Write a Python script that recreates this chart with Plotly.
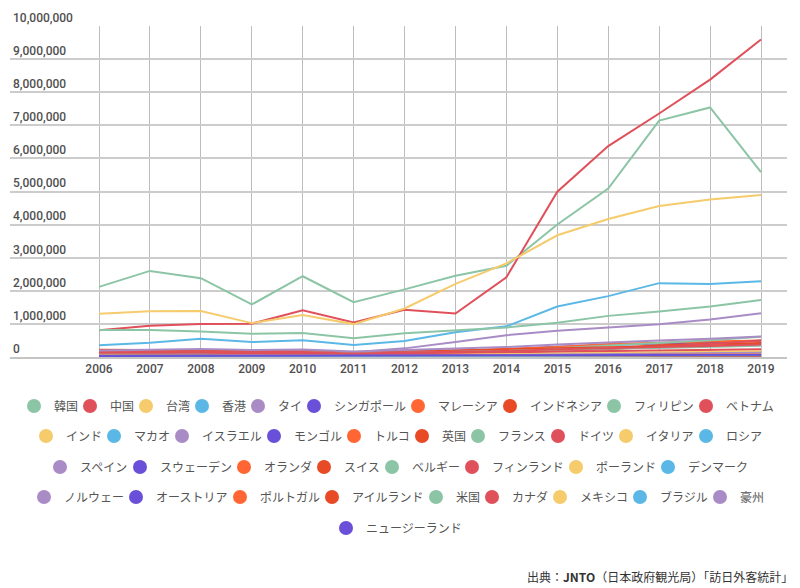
import plotly.graph_objects as go

years = [2006, 2007, 2008, 2009, 2010, 2011, 2012, 2013, 2014, 2015, 2016, 2017, 2018, 2019]
y_ticks = [0, 1000000, 2000000, 3000000, 4000000, 5000000, 6000000, 7000000, 8000000, 9000000, 10000000]

korea = [2117325, 2600694, 2382397, 1586772, 2439816, 1658073, 2042775, 2456165, 2755313, 4002095, 5090302, 7140438, 7538952, 5584597]
china = [811675, 942439, 1000416, 1006085, 1412875, 1043246, 1425100, 1314437, 2409158, 4993689, 6373564, 7355818, 8380034, 9594394]
taiwan = [1309121, 1385255, 1390228, 1024292, 1268278, 993974, 1465753, 2210821, 2829821, 3677075, 4167512, 4564053, 4757258, 4890602]
hongkong = [352265, 432042, 550190, 449568, 508691, 364865, 481665, 745881, 925975, 1524292, 1839193, 2231568, 2207804, 2290792]
thailand = [125704, 167481, 191881, 177541, 214881, 144969, 260640, 453642, 657570, 796731, 901525, 987211, 1132160, 1318977]
singapore = [115870, 151860, 167894, 145224, 180960, 111354, 142201, 189280, 227962, 308783, 361807, 404132, 437280, 492252]
malaysia = [85627, 100897, 105663, 89509, 114519, 81516, 130183, 176521, 249521, 305447, 394268, 439548, 468360, 501592]
indonesia = [62059, 63617, 66593, 63655, 80632, 61911, 101460, 136797, 158739, 205083, 271014, 352330, 396852, 412779]
philippines = [95530, 88123, 82177, 71485, 77377, 63099, 85037, 108351, 184204, 268361, 347861, 424121, 503976, 613114]
vietnam = [26000, 31000, 35000, 37000, 42000, 41000, 55000, 84000, 124000, 185000, 234000, 309000, 389000, 495000]
india = [62000, 65000, 67000, 59000, 67000, 59000, 69000, 75000, 88000, 103000, 123000, 134000, 154000, 176000]
macau = [15000, 18000, 20000, 18000, 20000, 15000, 20000, 25000, 40000, 55000, 70000, 95000, 100000, 110000]
israel = [8000, 9000, 9000, 8000, 9000, 6000, 8000, 10000, 14000, 19000, 25000, 32000, 37000, 42000]
mongolia = [10000, 11000, 12000, 11000, 11000, 9000, 12000, 14000, 17000, 18000, 18000, 21000, 22000, 24000]
turkey = [12000, 13000, 14000, 13000, 14000, 10000, 12000, 13000, 15000, 19000, 15000, 17000, 20000, 22000]
uk = [215704, 221945, 206564, 181460, 184045, 140099, 173994, 191798, 220060, 258488, 292458, 310499, 333979, 424279]
france = [134839, 137000, 147580, 141000, 151011, 95438, 130412, 154892, 178570, 214228, 253449, 268977, 304896, 336333]
germany = [125000, 125000, 126000, 117000, 124360, 80772, 108898, 121776, 140254, 162580, 183288, 195606, 215336, 236544]
italy = [55000, 59000, 59000, 54000, 62000, 34000, 52000, 67000, 80000, 103000, 119000, 125000, 149000, 162769]
russia = [52000, 61000, 66000, 46000, 51000, 34000, 50000, 60000, 64000, 54000, 55000, 77000, 95000, 120043]
spain = [30000, 33000, 35000, 32000, 34000, 23000, 35000, 44000, 61000, 77000, 91000, 100000, 119000, 130243]
sweden = [33000, 34000, 35000, 30000, 33000, 22000, 30000, 32000, 38000, 43000, 48000, 50000, 53000, 55000]
netherlands = [45000, 45000, 45000, 40000, 40000, 25000, 34000, 38000, 45000, 55000, 60000, 67000, 75000, 80000]
switzerland = [25000, 27000, 28000, 25000, 27000, 20000, 26000, 28000, 32000, 39000, 42000, 45000, 50000, 55000]
belgium = [15000, 16000, 17000, 15000, 17000, 10000, 14000, 16000, 20000, 25000, 28000, 31000, 34000, 36000]
finland = [14000, 15000, 16000, 14000, 15000, 10000, 13000, 14000, 17000, 20000, 22000, 25000, 28000, 31000]
poland = [8000, 9000, 10000, 9000, 10000, 7000, 10000, 12000, 15000, 20000, 25000, 30000, 35000, 40000]
denmark = [12000, 13000, 14000, 13000, 14000, 10000, 12000, 14000, 17000, 20000, 23000, 25000, 28000, 30000]
norway = [9000, 10000, 10000, 9000, 10000, 7000, 9000, 11000, 13000, 16000, 18000, 20000, 22000, 25000]
austria = [11000, 11000, 12000, 11000, 12000, 8000, 10000, 13000, 15000, 19000, 22000, 25000, 28000, 30000]
portugal = [5000, 5000, 6000, 5000, 6000, 4000, 5000, 7000, 10000, 13000, 15000, 17000, 19000, 21000]
ireland = [7000, 7000, 8000, 7000, 7000, 5000, 7000, 8000, 10000, 13000, 15000, 17000, 19000, 21000]
usa = [816727, 815882, 768345, 699919, 727234, 565887, 716709, 799280, 891668, 1033258, 1242719, 1374964, 1526407, 1723861]
canada = [162000, 166000, 168000, 152000, 153303, 101299, 135355, 152766, 182865, 231390, 273213, 305631, 330600, 375262]
mexico = [15000, 16000, 17000, 14000, 17000, 12000, 18000, 25000, 35000, 45000, 55000, 60000, 69000, 75000]
brazil = [25000, 27000, 30000, 25000, 28000, 20000, 25000, 28000, 32000, 34000, 39000, 44000, 48000, 50000]
australia = [194771, 222546, 242031, 211659, 225751, 162578, 206404, 244569, 302656, 376075, 445332, 495054, 552440, 621771]
newzealand = [32000, 35000, 36000, 32000, 34000, 25000, 34000, 38000, 45000, 50000, 57000, 62000, 65000, 70000]

countries = ["韓国", "中国", "台湾", "香港", "タイ", "シンガポール", "マレーシア", "インドネシア", "フィリピン", "ベトナム",
             "インド", "マカオ", "イスラエル", "モンゴル", "トルコ", "英国", "フランス", "ドイツ", "イタリア", "ロシア",
             "スペイン", "スウェーデン", "オランダ", "スイス", "ベルギー", "フィンランド", "ポーランド", "デンマーク",
             "ノルウェー", "オーストリア", "ポルトガル", "アイルランド", "米国", "カナダ", "メキシコ", "ブラジル", "豪州",
             "ニュージーランド"]
series = [korea, china, taiwan, hongkong, thailand, singapore, malaysia, indonesia, philippines, vietnam,
          india, macau, israel, mongolia, turkey, uk, france, germany, italy, russia,
          spain, sweden, netherlands, switzerland, belgium, finland, poland, denmark,
          norway, austria, portugal, ireland, usa, canada, mexico, brazil, australia, newzealand]

palette = ["#8cc5a6", "#e0505a", "#f5cb6b", "#5bb8e6", "#a98cc6", "#6a4fd8", "#ff6633", "#e84a25"]

# ---- layout constants (pixels) ----
W, H = 800, 588
PLOT_TOP, PLOT_BOTTOM, PLOT_LEFT, PLOT_RIGHT = 26, 357, 10, 787
plot_h = PLOT_BOTTOM - PLOT_TOP
plot_w = PLOT_RIGHT - PLOT_LEFT
FIRST_X, LAST_X = 99, 761

# legend rows: entries per row, row center y, horizontal center
row_sizes = [10, 10, 8, 9, 1]
row_centers_px = [406, 436, 467, 497, 528]
ROW_CENTER_X = 398
LEG_FONT = 12
SYM_TO_TEXT = 17     # marker center -> text start
GAP_AFTER = 15       # text end -> next marker center
SYM_OFFSET = 19      # plotly: marker center from legend left edge

fig = go.Figure()

for i, (name, vals) in enumerate(zip(countries, series)):
    fig.add_trace(go.Scatter(
        x=years, y=vals, mode="lines", name=name, legendgroup=name,
        line=dict(color=palette[i % 8], width=2), showlegend=False,
        hovertemplate="%{x}: %{y:,}<extra>" + name + "</extra>"))

# one legend per entry so that spacing follows the reference
legends = {}
idx = 0
for r, n in enumerate(row_sizes):
    names = countries[idx:idx + n]
    widths = [len(s) * LEG_FONT for s in names]
    pitches = [w + SYM_TO_TEXT + GAP_AFTER for w in widths]
    total = sum(pitches[:-1]) + 7 + SYM_TO_TEXT + widths[-1]
    cx = ROW_CENTER_X - total / 2 + 7
    ypaper = (PLOT_BOTTOM - row_centers_px[r]) / plot_h
    for k in range(n):
        i = idx + k
        lid = "legend" if i == 0 else f"legend{i + 1}"
        legends[lid] = dict(
            x=(cx - SYM_OFFSET - PLOT_LEFT) / plot_w, y=ypaper,
            xanchor="left", yanchor="middle", orientation="h",
            font=dict(family="Noto Sans CJK JP", size=LEG_FONT, color="#555555"),
            bgcolor="rgba(0,0,0,0)", itemwidth=30)
        fig.add_trace(go.Scatter(
            x=[None], y=[None], mode="markers", name=countries[i], legendgroup=countries[i],
            marker=dict(color=palette[i % 8], size=14, symbol="circle"),
            showlegend=True, legend=lid, hoverinfo="skip"))
        cx += pitches[k]
    idx += n

x0 = 2006 - (FIRST_X - PLOT_LEFT) / ((LAST_X - FIRST_X) / 13)
x1 = 2019 + (PLOT_RIGHT - LAST_X) / ((LAST_X - FIRST_X) / 13)

fig.update_layout(
    width=W, height=H,
    margin=dict(l=PLOT_LEFT, r=W - PLOT_RIGHT, t=PLOT_TOP, b=H - PLOT_BOTTOM, autoexpand=False),
    paper_bgcolor="white", plot_bgcolor="white",
    font=dict(family="Roboto, Noto Sans CJK JP", color="#444444"),
    xaxis=dict(range=[x0, x1], tickvals=years, ticktext=[str(y) for y in years],
               showgrid=True, gridcolor="#bdbdbd", gridwidth=1, zeroline=False,
               showline=True, linecolor="#c4c4c4", linewidth=2,
               ticks="", tickfont=dict(size=12, color="#505050", weight=500), fixedrange=True),
    yaxis=dict(range=[0, 10000000], tickvals=y_ticks, tickformat=",d",
               showgrid=True, gridcolor="#cccccc", gridwidth=1.5, zeroline=False,
               ticks="", ticklabelposition="inside top", ticklabeloverflow="allow",
               tickfont=dict(size=12, color="#505050", weight=500), fixedrange=True),
    showlegend=True,
    **legends,
    annotations=[dict(
        text="出典：<b>JNTO</b>（日本政府観光局）「訪日外客統計」",
        xref="paper", yref="paper",
        x=(795 - PLOT_LEFT) / plot_w, y=(PLOT_BOTTOM - 576) / plot_h,
        xanchor="right", yanchor="middle", showarrow=False,
        font=dict(family="Noto Sans CJK JP", size=12, color="#333333"))],
)

fig.write_html("out.html", config={"displayModeBar": False},
               post_script="document.body.style.margin='0';")
